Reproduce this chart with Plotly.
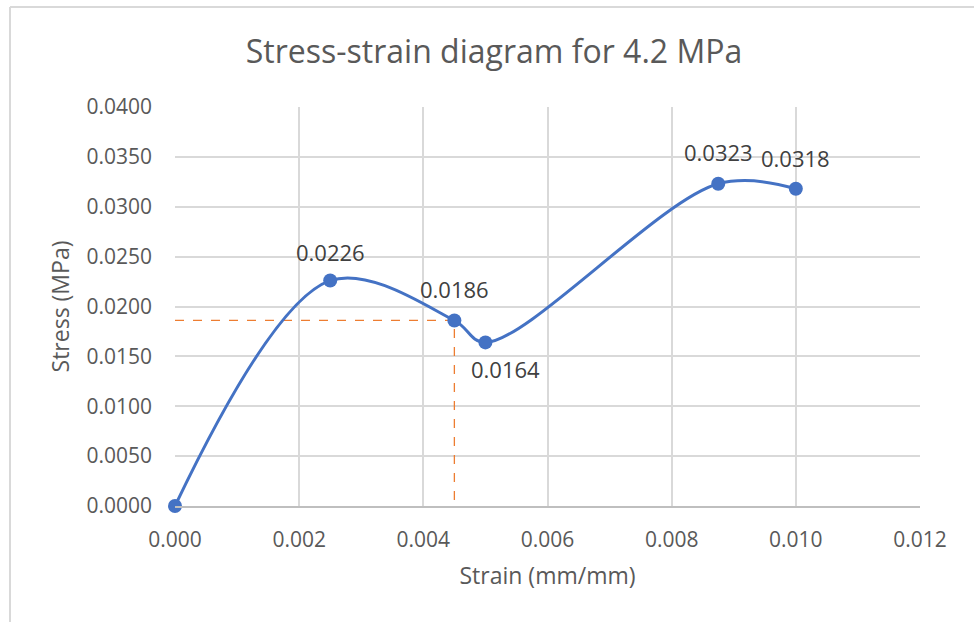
import plotly.graph_objects as go

# Data
strain = [0.0, 0.0025, 0.0045, 0.005, 0.00875, 0.010]
stress = [0.0, 0.0226, 0.0186, 0.0164, 0.0323, 0.0318]
labels = ["", "0.0226", "0.0186", "0.0164", "0.0323", "0.0318"]
guide_x = [0.0, 0.0045, 0.0045]
guide_y = [0.0186, 0.0186, 0.0]

W, H = 974, 622
ML, MR, MT, MB = 175, 54, 107, 116
PW, PH = W - ML - MR, H - MT - MB

def px(x):
    return (x - ML) / PW

def py(y):
    return (H - MB - y) / PH

fig = go.Figure()
fig.add_trace(go.Scatter(
    x=guide_x, y=guide_y, mode="lines",
    line=dict(color="#ED7D31", width=1.3, dash="dash"),
    hoverinfo="skip", showlegend=False))
fig.add_trace(go.Scatter(
    x=strain, y=stress, mode="lines+markers",
    line=dict(color="#4472C4", width=3, shape="spline", smoothing=1.0),
    marker=dict(color="#4472C4", size=14), cliponaxis=False,
    showlegend=False))

# Data labels
offsets = {1: (0, 29), 2: (0, 31), 3: (20, -27), 4: (0, 32), 5: (0, 31)}
for i, lab in enumerate(labels):
    if not lab:
        continue
    dx, dy = offsets[i]
    fig.add_annotation(x=strain[i], y=stress[i], text=lab, showarrow=False,
                       xshift=dx, yshift=dy,
                       font=dict(family="Open Sans", size=22, color="#404040"))

font = dict(family="Open Sans", size=21, color="#595959")
tfont = dict(family="Open Sans", size=23, color="#595959")
fig.update_layout(
    width=W, height=H,
    margin=dict(l=ML, r=MR, t=MT, b=MB),
    paper_bgcolor="white", plot_bgcolor="white",
    title=dict(text="Stress-strain diagram for 4.2 MPa", x=494 / W, xanchor="center",
               y=1 - 52 / H, yanchor="middle",
               font=dict(family="Open Sans", size=32, color="#595959")),
    xaxis=dict(range=[0, 0.012], dtick=0.002, tick0=0, tickformat=".3f",
               showgrid=True, gridcolor="#D9D9D9", gridwidth=1.5,
               zeroline=False, showline=True, linecolor="#BFBFBF", linewidth=1.5,
               ticks="", tickfont=font, ticklabelstandoff=14,
               title=dict(text="Strain (mm/mm)", font=tfont, standoff=16)),
    yaxis=dict(range=[0, 0.04], dtick=0.005, tick0=0, tickformat=".4f",
               showgrid=True, gridcolor="#D9D9D9", gridwidth=1.5,
               zeroline=False, showline=False,
               ticks="", tickfont=font, ticklabelstandoff=22,
               title=dict(text="Stress (MPa)", font=tfont, standoff=10)),
    shapes=[
        dict(type="line", xref="paper", yref="paper", x0=px(10), x1=px(W + 5), y0=py(7), y1=py(7),
             line=dict(color="#D9D9D9", width=2)),
        dict(type="line", xref="paper", yref="paper", x0=px(10), x1=px(10), y0=py(7), y1=py(H + 5),
             line=dict(color="#D9D9D9", width=2)),
    ],
)

fig.write_html("out.html")
